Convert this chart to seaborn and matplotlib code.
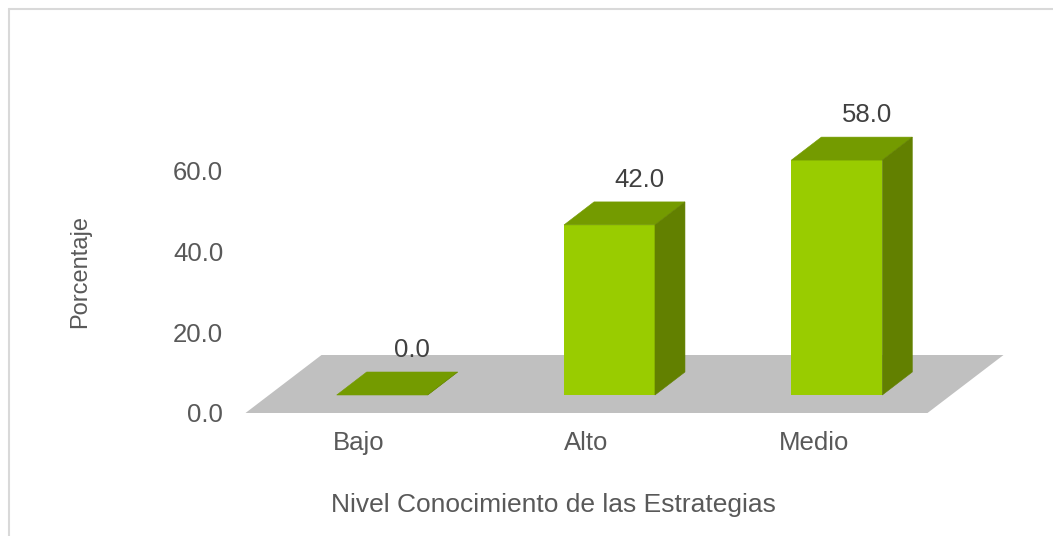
import numpy as np
import pandas as pd
import matplotlib
matplotlib.use("Agg")
import matplotlib.pyplot as plt
import seaborn as sns
from matplotlib.patches import Polygon
from matplotlib.lines import Line2D
from matplotlib.transforms import ScaledTranslation, IdentityTransform

# ---- data ----
categories = ["Bajo", "Alto", "Medio"]
values = [0.0, 42.0, 58.0]
y_ticks = [0, 20, 40, 60]
y_tick_labels = ["0.0", "20.0", "40.0", "60.0"]
x_title = "Nivel Conocimiento de las Estrategias"
y_title = "Porcentaje"

df = pd.DataFrame({"Nivel": categories, "Porcentaje": values})

sns.set_theme(style="white")
plt.rcParams["font.family"] = ["Liberation Sans", "DejaVu Sans"]

W, H, DPI = 1053, 536, 100
fig = plt.figure(figsize=(W / DPI, H / DPI), dpi=DPI)
ax = fig.add_axes([245.5 / W, 123 / H, 682 / W, 283.5 / H])

FRONT = "#99CC00"
TOP = "#749B00"
SIDE = "#628000"
FLOOR = "#C0C0C0"
TXT = "#595959"

sns.barplot(data=df, x="Nivel", y="Porcentaje", order=categories,
            color=FRONT, saturation=1, width=0.4, ax=ax, linewidth=0, zorder=3)
ax.set_xlim(-0.5, 2.5)
ax.set_ylim(0, 70)

# offsets (pixels) for pseudo-3D
bx, by = 23, 18      # bar plane shift from front plane
dx, dy = 30, 23      # bar depth
fx, fy = 76, 58      # floor depth

shift = ScaledTranslation(bx / DPI, by / DPI, fig.dpi_scale_trans)
for p in ax.patches:
    x0, w, h = p.get_x(), p.get_width(), p.get_height()
    p.set_transform(ax.transData + shift)
    pts = ax.transData.transform([(x0, h), (x0 + w, h), (x0 + w, 0)]) + np.array([bx, by])
    A, B, C = pts
    d = np.array([dx, dy])
    top = Polygon([A, B, B + d, A + d], closed=True, facecolor=TOP, edgecolor=TOP, lw=0.4,
                  transform=IdentityTransform(), zorder=3, clip_on=False)
    side = Polygon([B, C, C + d, B + d], closed=True, facecolor=SIDE, edgecolor=SIDE, lw=0.4,
                   transform=IdentityTransform(), zorder=3, clip_on=False)
    ax.add_patch(top)
    ax.add_patch(side)

# floor
fl = ax.transData.transform([(-0.5, 0), (2.5, 0)])
fd = np.array([fx, fy])
floor = Polygon([fl[0], fl[1], fl[1] + fd, fl[0] + fd], closed=True, facecolor=FLOOR,
                edgecolor="none", transform=IdentityTransform(), zorder=1, clip_on=False)
ax.add_patch(floor)

# data labels
for i, v in enumerate(values):
    ax.annotate(f"{v:.1f}", xy=(i, v), xytext=(bx + dx, by + dy + 22),
                textcoords="offset pixels", ha="center", va="center",
                fontsize=18.5, color="#404040", zorder=5, annotation_clip=False)

for s in ax.spines.values():
    s.set_visible(False)
ax.set_yticks(y_ticks)
ax.set_yticklabels(y_tick_labels)
ax.tick_params(axis="y", length=0, pad=16, labelsize=18.5, labelcolor=TXT)
ax.tick_params(axis="x", length=0, pad=13, labelsize=18.5, labelcolor=TXT)
ax.grid(False)

ax.set_xlabel(x_title, fontsize=19, color=TXT)
ax.set_ylabel(y_title, fontsize=17, color=TXT)
ax.xaxis.label.set_va("center")
ax.yaxis.label.set_va("center")
ax.xaxis.set_label_coords((553 - 245.5) / 682, (413 - 505) / 283.5)
ax.yaxis.set_label_coords((80 - 245.5) / 682, 0.5)

# chart border (light gray)
fig.add_artist(Line2D([9 / W, 9 / W], [0, 1 - 9 / H], transform=fig.transFigure,
                      color="#D9D9D9", lw=1.5))
fig.add_artist(Line2D([9 / W, 1], [1 - 9 / H, 1 - 9 / H], transform=fig.transFigure,
                      color="#D9D9D9", lw=1.5))

fig.savefig("out.png", dpi=DPI)
